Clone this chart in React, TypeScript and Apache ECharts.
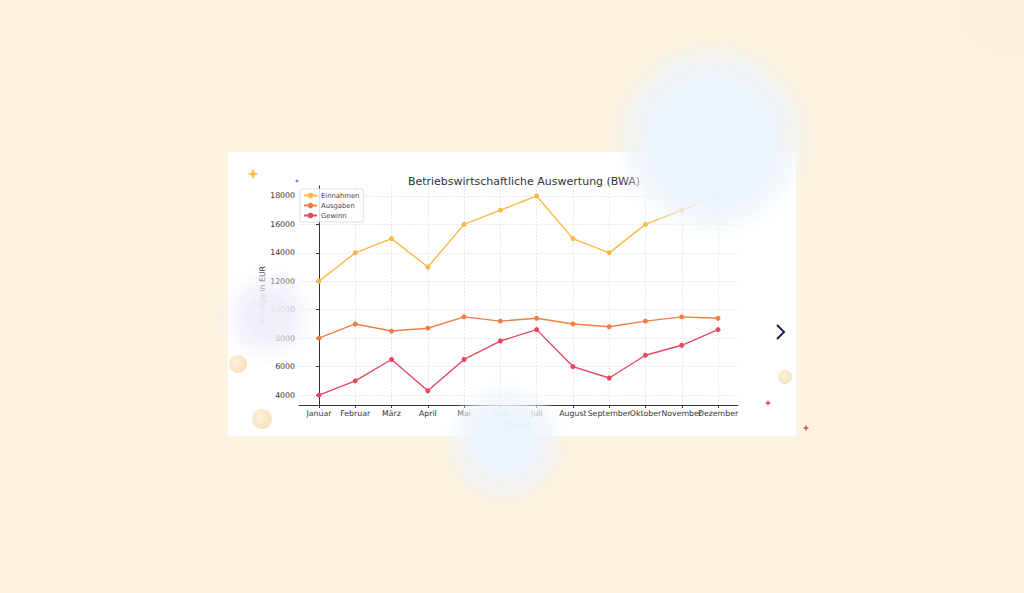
import React, { useEffect, useRef } from "react";
import * as echarts from "echarts";

const months = ["Januar", "Februar", "März", "April", "Mai", "Juni", "Juli", "August", "September", "Oktober", "November", "Dezember"];
const einnahmen = [12000, 14000, 15000, 13000, 16000, 17000, 18000, 15000, 14000, 16000, 17000, 18000];
const ausgaben = [8000, 9000, 8500, 8700, 9500, 9200, 9400, 9000, 8800, 9200, 9500, 9400];
const gewinn = [4000, 5000, 6500, 4300, 6500, 7800, 8600, 6000, 5200, 6800, 7500, 8600];
const yTicks = [4000, 6000, 8000, 10000, 12000, 14000, 16000, 18000];
const xTicks = months.map((_, i) => i);
const xEven = xTicks.filter((i) => i % 2 === 0);
const xOdd = xTicks.filter((i) => i % 2 === 1);

const FONT = "DejaVu Sans";

function sparkle(cx: number, cy: number, R: number, color: string) {
  const r = R * 0.28;
  return {
    type: "polygon",
    z: 60,
    shape: {
      points: [
        [cx, cy - R], [cx + r, cy - r], [cx + R, cy], [cx + r, cy + r],
        [cx, cy + R], [cx - r, cy + r], [cx - R, cy], [cx - r, cy - r],
      ],
    },
    style: { fill: color },
  };
}

function blob(cx: number, cy: number, r: number, rgb: string, stops: [number, number][]) {
  return {
    type: "circle",
    z: 50,
    silent: true,
    shape: { cx, cy, r },
    style: {
      fill: {
        type: "radial", x: 0.5, y: 0.5, r: 0.5,
        colorStops: stops.map(([o, a]) => ({ offset: o, color: `rgba(${rgb},${a})` })),
      },
    },
  };
}

function ball(cx: number, cy: number, r: number) {
  return {
    type: "circle",
    z: 55,
    shape: { cx, cy, r },
    style: {
      fill: {
        type: "radial", x: 0.4, y: 0.4, r: 0.7,
        colorStops: [
          { offset: 0, color: "#fdf2de" },
          { offset: 1, color: "#f5dfb6" },
        ],
      },
    },
  };
}

export default function App() {
  const ref = useRef<HTMLDivElement>(null);
  useEffect(() => {
    if (!ref.current) return;
    const chart = echarts.init(ref.current, null, { renderer: "svg" });
    const mk = (name: string, data: number[], color: string) => ({
      name,
      type: "line",
      xAxisIndex: 0,
      data: data.map((v, i) => [i, v]),
      symbol: "circle",
      symbolSize: 5,
      lineStyle: { color, width: 1.4 },
      itemStyle: { color },
      z: 3,
    });
    const labelStyle = {
      formatter: (v: number) => months[Math.round(v)] ?? "",
      showMinLabel: true,
      showMaxLabel: true,
      hideOverlap: false,
      fontFamily: FONT,
      fontSize: 7.8,
      color: "#333",
      margin: 4,
    };
    chart.setOption({
      animation: false,
      backgroundColor: "transparent",
      textStyle: { fontFamily: FONT },
      title: {
        text: "Betriebswirtschaftliche Auswertung (BWA)",
        left: 519,
        textAlign: "center",
        top: 171,
        textStyle: { fontFamily: FONT, fontSize: 11, fontWeight: "normal", color: "#333" },
      },
      legend: {
        orient: "vertical",
        left: 300,
        top: 189,
        padding: [3, 4, 3, 3],
        itemWidth: 13,
        itemHeight: 7,
        itemGap: 3,
        backgroundColor: "rgba(255,255,255,0.85)",
        borderColor: "#d8d8d8",
        borderWidth: 0.8,
        borderRadius: 2,
        textStyle: { fontFamily: FONT, fontSize: 6.8, color: "#444", padding: [0, 0, 0, -1] },
        data: ["Einnahmen", "Ausgaben", "Gewinn"],
      },
      grid: { left: 299, top: 186, width: 439, height: 219, containLabel: false },
      xAxis: [
        {
          type: "value",
          min: -0.55,
          max: 11.55,
          position: "bottom",
          name: "Monat",
          nameLocation: "middle",
          nameGap: 15,
          nameTextStyle: { fontFamily: FONT, fontSize: 7.8, color: "#333" },
          axisLine: { show: true, lineStyle: { color: "#333", width: 1 } },
          axisTick: { show: true, length: 3, lineStyle: { color: "#333" }, customValues: xTicks },
          axisLabel: { ...labelStyle, customValues: xEven },
          splitLine: { show: true, lineStyle: { color: "#e2e2e2", type: [2, 1.5], width: 0.8 } },
        },
        {
          type: "value",
          min: -0.55,
          max: 11.55,
          position: "bottom",
          axisLine: { show: false },
          axisTick: { show: false, customValues: xOdd },
          axisLabel: { ...labelStyle, customValues: xOdd },
          splitLine: { show: false },
        },
      ],
      yAxis: {
        type: "value",
        min: 3300,
        max: 18700,
        name: "Beträge in EUR",
        nameLocation: "middle",
        nameGap: 32,
        nameTextStyle: { fontFamily: FONT, fontSize: 7.8, color: "#333" },
        axisLine: { show: true, lineStyle: { color: "#333", width: 1 } },
        axisTick: { show: true, length: 3, lineStyle: { color: "#333" }, customValues: yTicks },
        axisLabel: {
          customValues: yTicks,
          formatter: (v: number) => String(v),
          showMinLabel: true,
          showMaxLabel: true,
          fontFamily: FONT,
          fontSize: 7.8,
          color: "#333",
          margin: 4,
        },
        splitLine: { show: true, lineStyle: { color: "#e2e2e2", type: [2, 1.5], width: 0.8 } },
      },
      series: [
        mk("Einnahmen", einnahmen, "#fbb843"),
        mk("Ausgaben", ausgaben, "#f07f43"),
        mk("Gewinn", gewinn, "#e8485f"),
      ],
      graphic: [
        blob(712, 140, 100, "238,245,253", [[0, 1], [0.6, 0.97], [0.82, 0.6], [1, 0]]),
        blob(505, 442, 62, "238,245,253", [[0, 1], [0.5, 0.95], [0.8, 0.5], [1, 0]]),
        blob(268, 316, 50, "240,237,250", [[0, 0.97], [0.4, 0.88], [0.75, 0.35], [1, 0]]),
        blob(1010, 5, 60, "250,238,215", [[0, 0.5], [1, 0]]),
        ball(238, 364, 9),
        ball(262, 419, 10),
        ball(785, 377, 7),
        sparkle(253, 174, 5.5, "#f6c24a"),
        sparkle(297, 181, 2.2, "#6b52d6"),
        sparkle(768, 403, 3.2, "#e8407e"),
        sparkle(806, 428, 3.2, "#e8407e"),
        {
          type: "polyline",
          z: 60,
          shape: { points: [[777, 325], [784, 332], [777, 339]] },
          style: { stroke: "#2b1d52", lineWidth: 2, fill: "none" },
        },
      ],
    });
    return () => chart.dispose();
  }, []);
  return (
    <div style={{ position: "fixed", left: 0, top: 0, width: 1024, height: 593, background: "#fcf3e1", overflow: "hidden" }}>
      <div style={{ position: "absolute", left: 228, top: 152, width: 568, height: 284, background: "#ffffff" }} />
      <div ref={ref} style={{ position: "absolute", left: 0, top: 0, width: 1024, height: 593 }} />
    </div>
  );
}
